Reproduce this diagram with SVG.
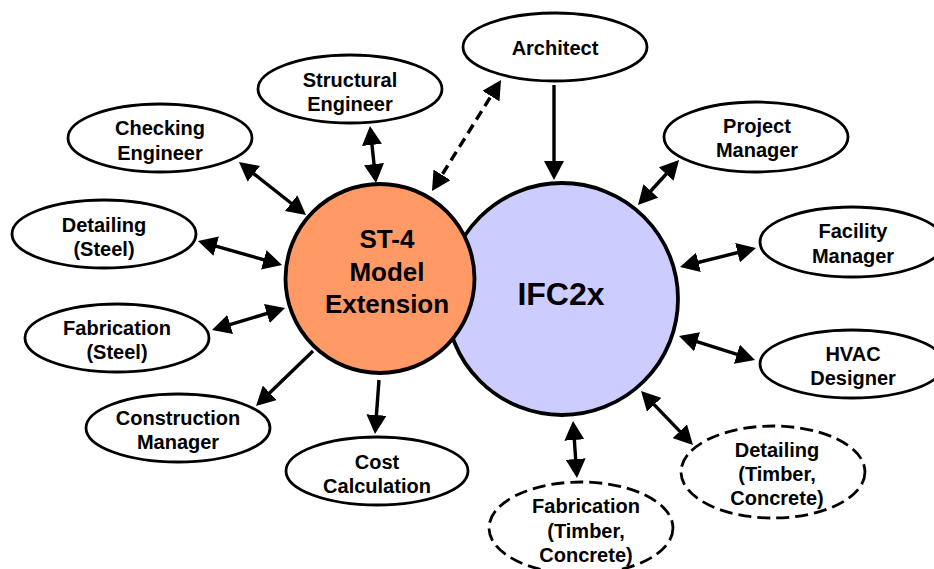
<svg xmlns="http://www.w3.org/2000/svg" width="934" height="569" viewBox="0 0 934 569">
<defs>
<style>
.node{fill:#fff;stroke:#000;stroke-width:2.8}
.dashed{stroke-dasharray:13 6}
.lbl{font-family:"Liberation Sans",Arial,sans-serif;font-weight:bold;font-size:20px;text-anchor:middle;fill:#000}
.big{font-family:"Liberation Sans",Arial,sans-serif;font-weight:bold;text-anchor:middle;fill:#000}
.conn line{stroke:#000;stroke-width:3.4;fill:none}
.both{marker-start:url(#ah);marker-end:url(#ah)}
.one{marker-end:url(#ah)}
.dash{stroke-dasharray:10 6}
</style>
<marker id="ah" viewBox="0 0 19 20" refX="15" refY="10" markerWidth="19" markerHeight="20" markerUnits="userSpaceOnUse" orient="auto-start-reverse">
<path d="M0,0 L19,10 L0,20 z" fill="#000"/>
</marker>
</defs>
<rect width="934" height="569" fill="#fff"/>

<g id="ifc2x">
<circle cx="562" cy="299" r="116" fill="#CCCCFF" stroke="#000" stroke-width="3.8"/>
<text class="big" x="561" y="305" font-size="32">IFC2x</text>
</g>
<g id="st4">
<circle cx="380" cy="278.5" r="94.5" fill="#FF9966" stroke="#000" stroke-width="3.8"/>
<text class="big" font-size="26" x="387" y="248">ST-4</text>
<text class="big" font-size="26" x="387" y="281">Model</text>
<text class="big" font-size="26" x="387" y="313">Extension</text>
</g>

<g id="architect">
<ellipse class="node" cx="555" cy="47" rx="92" ry="34"/>
<text class="lbl" x="555" y="55">Architect</text>
</g>
<g id="structural-engineer">
<ellipse class="node" cx="350" cy="89" rx="92" ry="34"/>
<text class="lbl" x="350" y="87">Structural</text>
<text class="lbl" x="350" y="111">Engineer</text>
</g>
<g id="checking-engineer">
<ellipse class="node" cx="160" cy="138" rx="92" ry="34"/>
<text class="lbl" x="160" y="135">Checking</text>
<text class="lbl" x="160" y="160">Engineer</text>
</g>
<g id="detailing-steel">
<ellipse class="node" cx="104" cy="234" rx="92" ry="34"/>
<text class="lbl" x="104" y="232">Detailing</text>
<text class="lbl" x="104" y="256">(Steel)</text>
</g>
<g id="fabrication-steel">
<ellipse class="node" cx="117" cy="338" rx="92" ry="34"/>
<text class="lbl" x="117" y="335">Fabrication</text>
<text class="lbl" x="117" y="359">(Steel)</text>
</g>
<g id="construction-manager">
<ellipse class="node" cx="178" cy="428" rx="92" ry="34"/>
<text class="lbl" x="178" y="425">Construction</text>
<text class="lbl" x="178" y="449">Manager</text>
</g>
<g id="cost-calculation">
<ellipse class="node" cx="377" cy="471" rx="91" ry="34"/>
<text class="lbl" x="377" y="469">Cost</text>
<text class="lbl" x="377" y="493">Calculation</text>
</g>
<g id="project-manager">
<ellipse class="node" cx="756" cy="137" rx="92" ry="35"/>
<text class="lbl" x="757" y="133">Project</text>
<text class="lbl" x="757" y="157">Manager</text>
</g>
<g id="facility-manager">
<ellipse class="node" cx="852" cy="242" rx="92" ry="35"/>
<text class="lbl" x="853" y="238">Facility</text>
<text class="lbl" x="853" y="263">Manager</text>
</g>
<g id="hvac-designer">
<ellipse class="node" cx="852" cy="364" rx="92" ry="34"/>
<text class="lbl" x="853" y="361">HVAC</text>
<text class="lbl" x="853" y="385">Designer</text>
</g>
<g id="detailing-timber-concrete">
<ellipse class="node dashed" cx="773" cy="472" rx="92" ry="46"/>
<text class="lbl" x="777" y="457">Detailing</text>
<text class="lbl" x="777" y="481">(Timber,</text>
<text class="lbl" x="777" y="505">Concrete)</text>
</g>
<g id="fabrication-timber-concrete">
<ellipse class="node dashed" cx="581" cy="528" rx="92" ry="46"/>
<text class="lbl" x="586" y="513">Fabrication</text>
<text class="lbl" x="586" y="538">(Timber,</text>
<text class="lbl" x="586" y="562">Concrete)</text>
</g>

<g id="connectors" class="conn">
<line class="both" x1="370.4" y1="130" x2="375.6" y2="179"/>
<line class="both" x1="242.1" y1="164.5" x2="302.9" y2="212.5"/>
<line class="both" x1="201.8" y1="242.1" x2="278.2" y2="263.9"/>
<line class="both dash" x1="434.1" y1="187.6" x2="498.9" y2="83.4"/>
<line class="one" x1="554" y1="85" x2="554" y2="176"/>
<line class="both" x1="676.3" y1="163" x2="640.7" y2="202"/>
<line class="both" x1="752.1" y1="249" x2="683.9" y2="266"/>
<line class="both" x1="682.8" y1="337.2" x2="751.2" y2="358.8"/>
<line class="both" x1="643.8" y1="393.9" x2="690.2" y2="442.1"/>
<line class="both" x1="573.3" y1="425" x2="576.7" y2="474"/>
<line class="both" x1="215.8" y1="328.8" x2="281.2" y2="309.2"/>
<line class="one" x1="313" y1="351" x2="258.9" y2="403.2"/>
<line class="one" x1="379" y1="380" x2="375.3" y2="430"/>
</g>
</svg>
